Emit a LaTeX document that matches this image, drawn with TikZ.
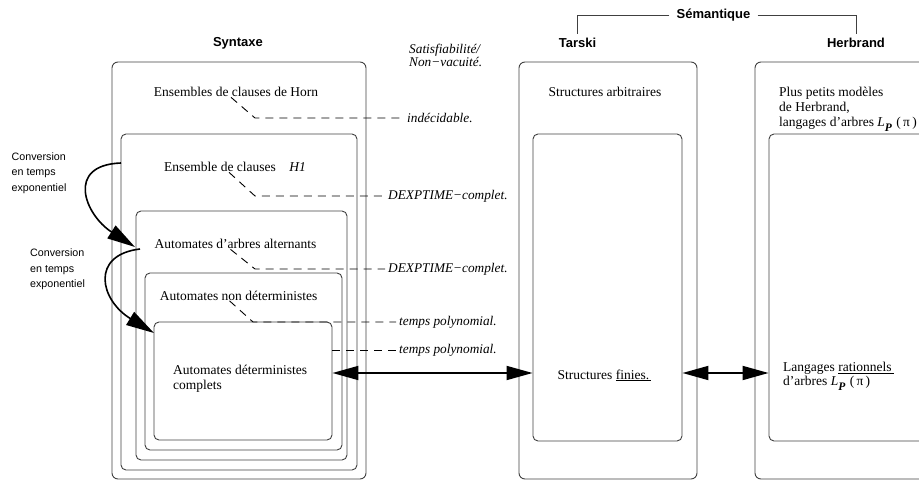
\documentclass[tikz,border=0pt]{standalone}
\usepackage{fontspec}
\setmainfont{Liberation Serif}
\setsansfont{Liberation Sans}
\usetikzlibrary{arrows.meta}
\newcommand\LPpi{{\itshape L}\raisebox{-5pt}{\itshape\bfseries\fontsize{11.5}{11}\selectfont P}\,\,(\,π\,)}
\begin{document}
\begin{tikzpicture}[x=1pt,y=-1pt,
 box/.style={draw=black!75, line width=0.9pt, rounded corners=6pt, inner sep=0pt},
 ibox/.style={box, rounded corners=5pt},
 ttl/.style={font=\sffamily\bfseries\fontsize{13}{15}\selectfont, inner sep=1pt},
 lbl/.style={font=\fontsize{13.5}{15}\selectfont, inner sep=0pt},
 cx/.style={font=\itshape\fontsize{13.3}{11}\selectfont, inner sep=3pt, anchor=west},
 conv/.style={font=\sffamily\fontsize{10.7}{15.5}\selectfont, align=left, inner sep=0pt, anchor=base west},
 dl/.style={dash pattern=on 8pt off 6pt, line width=0.9pt, black},
 big/.style={line width=1.8pt, {Triangle[length=26pt,width=14pt]}-{Triangle[length=26pt,width=14pt]}},
 carr/.style={line width=1.6pt, -{Triangle[length=28pt,width=15pt]}},
 brk/.style={draw=black!75, line width=0.8pt},
]
\useasboundingbox (0,0) rectangle (919,481);
\clip (0,0) rectangle (919,481);

% boxes
\node[box, minimum width=254pt, minimum height=417pt] (b1) at (239,270.5) {};
\node[ibox, minimum width=236pt, minimum height=336pt] (b2) at (239,302) {};
\node[ibox, minimum width=211pt, minimum height=249pt] (b3) at (241.5,335.5) {};
\node[ibox, minimum width=197pt, minimum height=177pt] (b4) at (243.5,361.5) {};
\node[ibox, minimum width=178pt, minimum height=118pt] (b5) at (243,381) {};
\node[box, minimum width=178pt, minimum height=417pt] (to) at (608,270.5) {};
\node[ibox, minimum width=149pt, minimum height=307pt] (ti) at (607.5,287.5) {};
\node[box, minimum width=180pt, minimum height=417pt] (ho) at (845,270.5) {};
\node[ibox, minimum width=156pt, minimum height=307pt] (hi) at (847,287.5) {};

% titles
\node[ttl] (syn) at (238,43) {Syntaxe};
\node[ttl] (tar) at (577.5,43) {Tarski};
\node[ttl] (her) at (856,43) {Herbrand};
\node[ttl, inner xsep=7pt] (sem) at (713.5,15) {Sémantique};
\draw[brk] (sem.west) -| ([yshift=3pt]tar.north);
\draw[brk] (sem.east) -| ([yshift=3pt]her.north);

% texts
\node[lbl, anchor=base] (horn) at (236,97) {Ensembles de clauses de Horn};
\node[lbl, anchor=base] (h1) at (235,172) {Ensemble de clauses\quad{\itshape H1}};
\node[lbl, anchor=base] (alt) at (235.5,249) {Automates d’arbres alternants};
\node[lbl, anchor=base] (nd) at (238.5,300.5) {Automates non déterministes};
\node[lbl, anchor=base west, align=left] (det) at (173,389.5) {Automates déterministes\\complets};
\node[lbl, anchor=base] (sarb) at (605,97) {Structures arbitraires};
\node[lbl, anchor=base west] (sfin) at (557.5,379) {Structures \underline{finies.\,}};
\node[lbl, anchor=base west, align=left] (plus) at (779,127) {Plus petits modèles\\de Herbrand,\\langages d’arbres \LPpi};
\node[lbl, anchor=base west, align=left, font=\fontsize{13.5}{12}\selectfont] (lang) at (783,385) {Langages \underline{rationnels\,}\\d’arbres \LPpi};

% complexity labels
\node[cx, align=left, anchor=base west, inner sep=0pt] (sat) at (409,67) {Satisfiabilité/\\Non−vacuité.};
\node[cx] (indec) at (404,118) {indécidable.};
\node[cx] (dx1) at (385,196) {DEXPTIME−complet.};
\node[cx] (dx2) at (385,269) {DEXPTIME−complet.};
\node[cx] (p1) at (396,322) {temps polynomial.};
\node[cx] (p2) at (396,350) {temps polynomial.};

\coordinate (k1) at (255,118);
\coordinate (k2) at (255,196);
\coordinate (k3) at (255,269);
\coordinate (k4) at (253,322);
\draw[dl] ([xshift=-5pt]horn.south) -- (k1) -- (indec.west);
\draw[dl] ([xshift=-6pt]h1.south) -- (k2) -- (dx1.west);
\draw[dl] ([xshift=-5pt]alt.south) -- (k3) -- (dx2.west);
\draw[dl] ([xshift=-9pt]nd.south) -- (k4) -- (p1.west);
\draw[dl] (b5.east |- p2.west) -- (p2.west);

% conversion labels
\node[conv] (c1) at (11.5,191.5) {Conversion\\en temps\\exponentiel};
\node[conv] (c2) at (30,287.5) {Conversion\\en temps\\exponentiel};

% arrows
\coordinate (ar) at (0,373);
\draw[big] (b5.east |- ar) -- (ti.west |- ar);
\draw[big] (ti.east |- ar) -- (hi.west |- ar);
\coordinate (s1) at (121,163);
\coordinate (t1) at (135,247);
\coordinate (s2) at (140,249);
\coordinate (t2) at (154,333);
\draw[carr] (s1) .. controls (65,165) and (85,215) .. (t1);
\draw[carr] (s2) .. controls (90,255) and (100,300) .. (t2);
\end{tikzpicture}
\end{document}
